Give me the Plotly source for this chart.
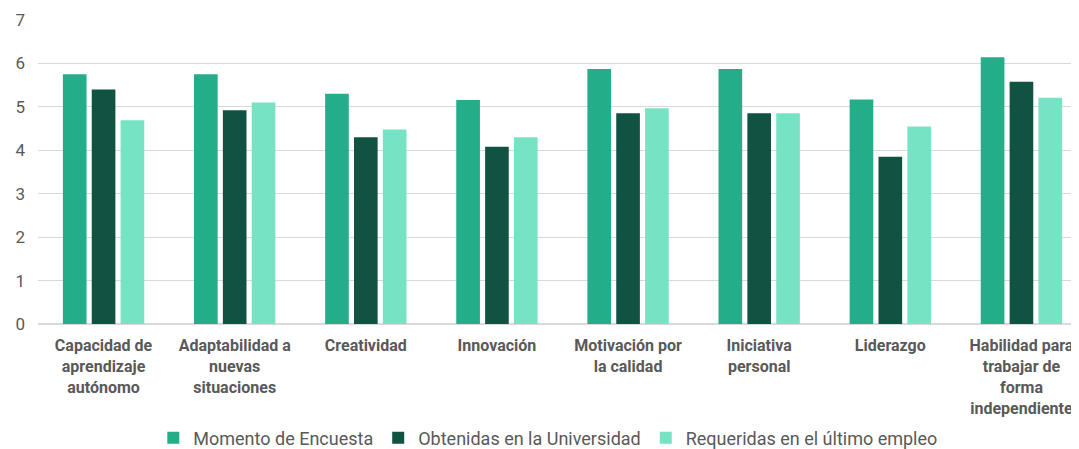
import plotly.graph_objects as go

# categories (axis labels split on two-four lines like the original)
categorias = [
    "Capacidad de<br>aprendizaje<br>autónomo",
    "Adaptabilidad a<br>nuevas<br>situaciones",
    "Creatividad",
    "Innovación",
    "Motivación por<br>la calidad",
    "Iniciativa<br>personal",
    "Liderazgo",
    "Habilidad para<br>trabajar de<br>forma<br>independiente",
]

momento_encuesta = [5.75, 5.75, 5.30, 5.16, 5.87, 5.87, 5.17, 6.14]
obtenidas_universidad = [5.40, 4.92, 4.30, 4.08, 4.85, 4.85, 3.85, 5.58]
requeridas_empleo = [4.69, 5.10, 4.48, 4.30, 4.97, 4.85, 4.55, 5.21]

series = [
    ("Momento de Encuesta", momento_encuesta, "#23ad88"),
    ("Obtenidas en la Universidad", obtenidas_universidad, "#115343"),
    ("Requeridas en el último empleo", requeridas_empleo, "#77e3c5"),
]

fig = go.Figure()
for nombre, valores, color in series:
    fig.add_trace(go.Bar(
        x=list(range(len(categorias))),
        y=valores,
        name=nombre,
        marker=dict(color=color, line=dict(width=0)),
    ))

# page body has an 8px margin, so the figure is shifted down/right by 8px
fig.update_layout(
    width=1079,
    height=449,
    margin=dict(l=30, r=0, t=12, b=133, autoexpand=False),
    plot_bgcolor="white",
    paper_bgcolor="white",
    font=dict(family="Roboto", color="#595959", size=14),
    barmode="group",
    bargap=0.34,
    bargroupgap=0.18,
    legend=dict(
        orientation="h",
        x=0.486, xanchor="center",
        y=-0.375, yanchor="middle",
        font=dict(size=18, color="#595959"),
        itemwidth=30,
        tracegroupgap=0,
    ),
    showlegend=True,
)

fig.update_xaxes(
    tickvals=list(range(len(categorias))),
    ticktext=categorias,
    range=[-0.5, 7.5],
    tickfont=dict(size=16, color="#595959", weight="bold"),
    showgrid=False,
    showline=True,
    linecolor="#d9d9d9",
    linewidth=1,
    ticks="",
    ticklabelstandoff=7,
    automargin=False,
)
fig.update_yaxes(
    range=[0, 7],
    dtick=1,
    showgrid=True,
    gridcolor="#d9d9d9",
    gridwidth=1,
    zeroline=True,
    zerolinecolor="#d9d9d9",
    tickfont=dict(size=17, color="#595959"),
    ticklabelstandoff=12,
    automargin=False,
)

fig.write_html("out.html")
